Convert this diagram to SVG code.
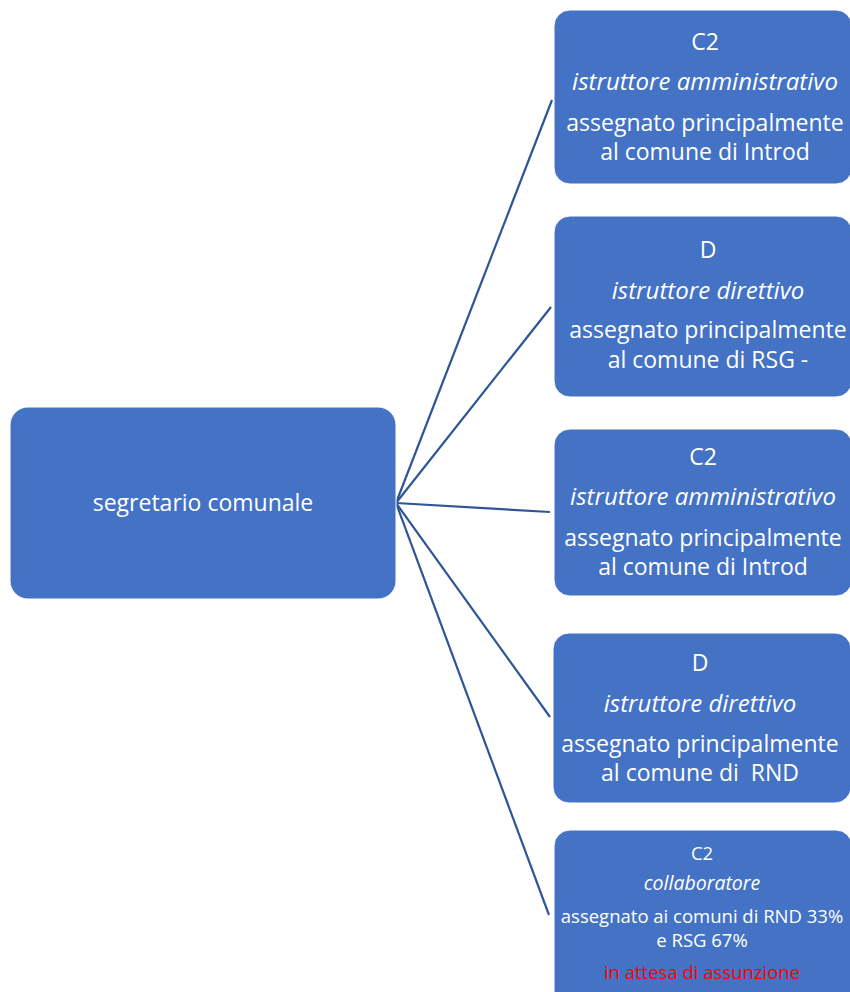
<svg xmlns="http://www.w3.org/2000/svg" width="850" height="992" viewBox="0 0 850 992">
<style>
.box{fill:#4472C4;stroke:#ffffff;stroke-width:1}
.t{font-family:"Open Sans","Noto Sans","Liberation Sans",sans-serif;fill:#ffffff;text-anchor:middle;font-size:23px}
.i{font-style:italic;font-size:24px}
.s{font-size:18.5px}
.si{font-style:italic;font-size:19.5px}
.red{fill:#FF0000}
.c{stroke:#2F5597;stroke-width:2.2;fill:none}
</style>
<rect width="850" height="992" fill="#ffffff"/>
<g id="connectors">
<line class="c" x1="396" y1="503" x2="552" y2="100"/>
<line class="c" x1="396" y1="503" x2="551" y2="307"/>
<line class="c" x1="396" y1="503" x2="550" y2="512"/>
<line class="c" x1="396" y1="503" x2="550" y2="717"/>
<line class="c" x1="396" y1="503" x2="549" y2="915"/>
</g>
<g id="root">
<rect class="box" x="10" y="407" width="386" height="192" rx="18"/>
<text class="t" x="203" y="511">segretario comunale</text>
</g>
<g id="n1">
<rect class="box" x="554" y="10" width="298" height="174" rx="16"/>
<text class="t" x="705" y="50">C2</text>
<text class="t i" x="705" y="90">istruttore amministrativo</text>
<text class="t" x="705" y="131">assegnato principalmente</text>
<text class="t" x="705" y="160">al comune di Introd</text>
</g>
<g id="n2">
<rect class="box" x="554" y="216" width="298" height="181" rx="16"/>
<text class="t" x="708" y="258">D</text>
<text class="t i" x="708" y="299">istruttore direttivo</text>
<text class="t" x="708" y="338">assegnato principalmente</text>
<text class="t" x="708" y="368">al comune di RSG -</text>
</g>
<g id="n3">
<rect class="box" x="554" y="429" width="298" height="167" rx="16"/>
<text class="t" x="703" y="465">C2</text>
<text class="t i" x="703" y="505">istruttore amministrativo</text>
<text class="t" x="703" y="546">assegnato principalmente</text>
<text class="t" x="703" y="575">al comune di Introd</text>
</g>
<g id="n4">
<rect class="box" x="553" y="633" width="298" height="170" rx="16"/>
<text class="t" x="700" y="671">D</text>
<text class="t i" x="700" y="712">istruttore direttivo</text>
<text class="t" x="700" y="752">assegnato principalmente</text>
<text class="t" x="700" y="781" xml:space="preserve">al comune di  RND</text>
</g>
<g id="n5">
<rect class="box" x="554" y="830" width="298" height="180" rx="16"/>
<text class="t s" x="702" y="860">C2</text>
<text class="t si" x="702" y="890">collaboratore</text>
<text class="t s" x="702" y="923">assegnato ai comuni di RND 33%</text>
<text class="t s" x="702" y="947">e RSG 67%</text>
<text class="t s red" x="702" y="979">in attesa di assunzione</text>
</g>
</svg>
